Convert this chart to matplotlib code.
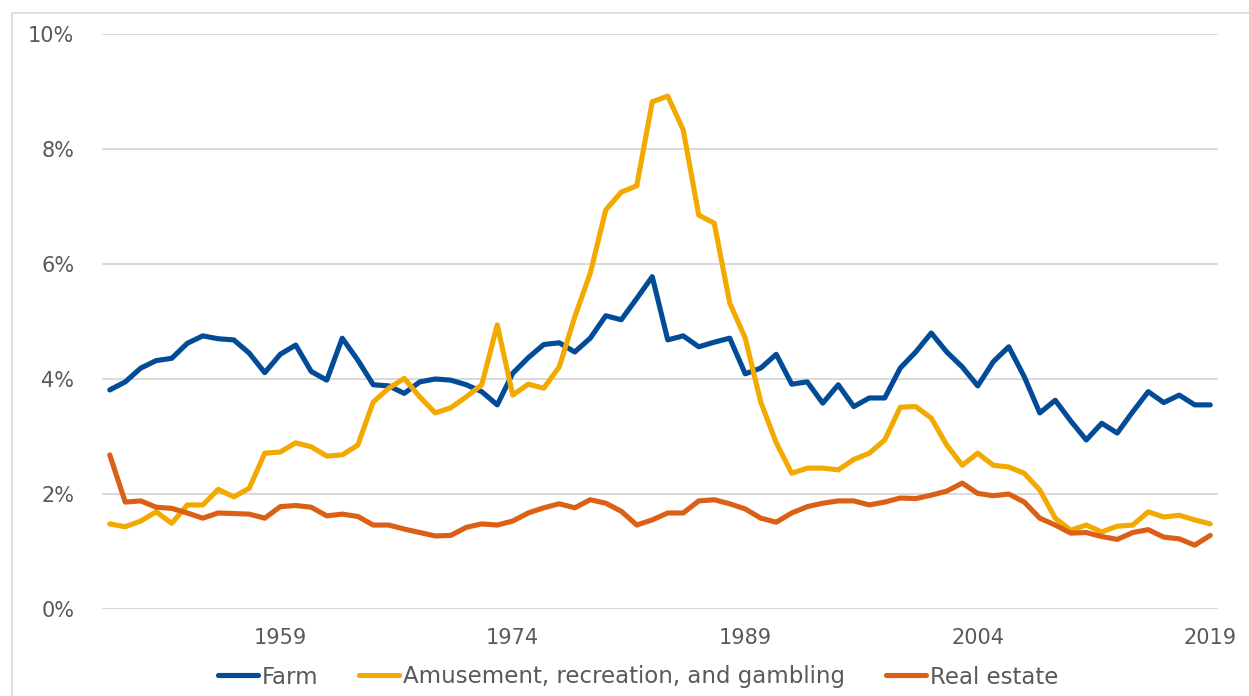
import matplotlib
matplotlib.use("Agg")
import matplotlib.pyplot as plt
from matplotlib.patches import Rectangle
from matplotlib.ticker import FuncFormatter

years = list(range(1948, 2020))

farm = [3.81, 3.95, 4.19, 4.32, 4.36, 4.62, 4.75, 4.70, 4.68, 4.45, 4.11, 4.43,
        4.59, 4.13, 3.98, 4.71, 4.33, 3.90, 3.88, 3.75, 3.95, 4.00,
        3.98, 3.90, 3.78, 3.55, 4.10, 4.37, 4.60, 4.63, 4.47, 4.71,
        5.10, 5.03, 5.40, 5.78, 4.68, 4.75, 4.56, 4.64, 4.71, 4.09,
        4.19, 4.43, 3.91, 3.95, 3.58, 3.90, 3.52, 3.67, 3.67, 4.19,
        4.47, 4.80, 4.47, 4.21, 3.88, 4.30, 4.56, 4.04, 3.41, 3.63,
        3.27, 2.94, 3.23, 3.06, 3.43, 3.78, 3.59, 3.72, 3.55, 3.55]

amusement = [1.48, 1.43, 1.53, 1.69, 1.49, 1.81, 1.81, 2.08, 1.95, 2.10, 2.71, 2.73,
             2.89, 2.82, 2.66, 2.68, 2.85, 3.60, 3.84, 4.01, 3.69, 3.41,
             3.50, 3.69, 3.90, 4.94, 3.72, 3.91, 3.84, 4.21, 5.08, 5.84,
             6.94, 7.25, 7.36, 8.82, 8.92, 8.33, 6.85, 6.71, 5.32, 4.71,
             3.60, 2.89, 2.36, 2.45, 2.45, 2.42, 2.60, 2.71, 2.94, 3.51,
             3.52, 3.32, 2.85, 2.50, 2.71, 2.50, 2.47, 2.36, 2.07, 1.58,
             1.37, 1.46, 1.34, 1.44, 1.46, 1.69, 1.60, 1.63, 1.55, 1.48]

real_estate = [2.68, 1.86, 1.88, 1.77, 1.75, 1.67, 1.58, 1.67, 1.66, 1.65, 1.58, 1.78,
               1.80, 1.77, 1.62, 1.65, 1.61, 1.46, 1.46, 1.39, 1.33, 1.27,
               1.28, 1.42, 1.48, 1.46, 1.53, 1.67, 1.76, 1.83, 1.76, 1.90,
               1.84, 1.70, 1.46, 1.55, 1.67, 1.67, 1.88, 1.90, 1.83, 1.74,
               1.58, 1.51, 1.67, 1.78, 1.84, 1.88, 1.88, 1.81, 1.86, 1.93,
               1.92, 1.98, 2.05, 2.19, 2.01, 1.97, 2.00, 1.86, 1.58, 1.46,
               1.32, 1.33, 1.26, 1.21, 1.33, 1.38, 1.25, 1.22, 1.11, 1.28]

series_names = ["Farm", "Amusement, recreation, and gambling", "Real estate"]
series_colors = ["#024B97", "#F2AA00", "#DB6015"]
x_ticks = [1959, 1974, 1989, 2004, 2019]
y_ticks = [0, 2, 4, 6, 8, 10]

W, H = 1249, 696
fig = plt.figure(figsize=(W / 100, H / 100), dpi=100)
plt.rcParams['font.family'] = ['DejaVu Sans']

# chart border
fig.patches.append(Rectangle((12 / W, -0.05), 1.1, (H - 13) / H + 0.05,
                             transform=fig.transFigure, fill=False,
                             edgecolor="#D9D9D9", linewidth=1.2))

ax = fig.add_axes([102 / W, 87 / H, (1218 - 102) / W, (609 - 34) / H])
for vals, name, col in zip([farm, amusement, real_estate], series_names, series_colors):
    ax.plot(years, vals, color=col, linewidth=3.7, label=name,
            solid_joinstyle='round', solid_capstyle='round')

ax.set_xlim(1947.5, 2019.5)
ax.set_ylim(0, 10)
ax.set_xticks(x_ticks)
ax.set_yticks(y_ticks)
ax.yaxis.set_major_formatter(FuncFormatter(lambda v, p: f"{int(v)}%"))
ax.grid(axis='y', color="#D9D9D9", linewidth=1.4)
ax.set_axisbelow(True)
for s in ax.spines.values():
    s.set_visible(False)
ax.tick_params(axis='both', length=0, labelsize=15, colors="#595959")
ax.tick_params(axis='x', pad=14)
ax.tick_params(axis='y', pad=20)

leg = fig.legend(loc='center', bbox_to_anchor=(638 / W, 19 / H), ncol=3,
                 frameon=False, fontsize=16.5, handlelength=1.75, handletextpad=0.15,
                 columnspacing=1.8, labelcolor="#595959")

fig.savefig("out.png", dpi=100)
